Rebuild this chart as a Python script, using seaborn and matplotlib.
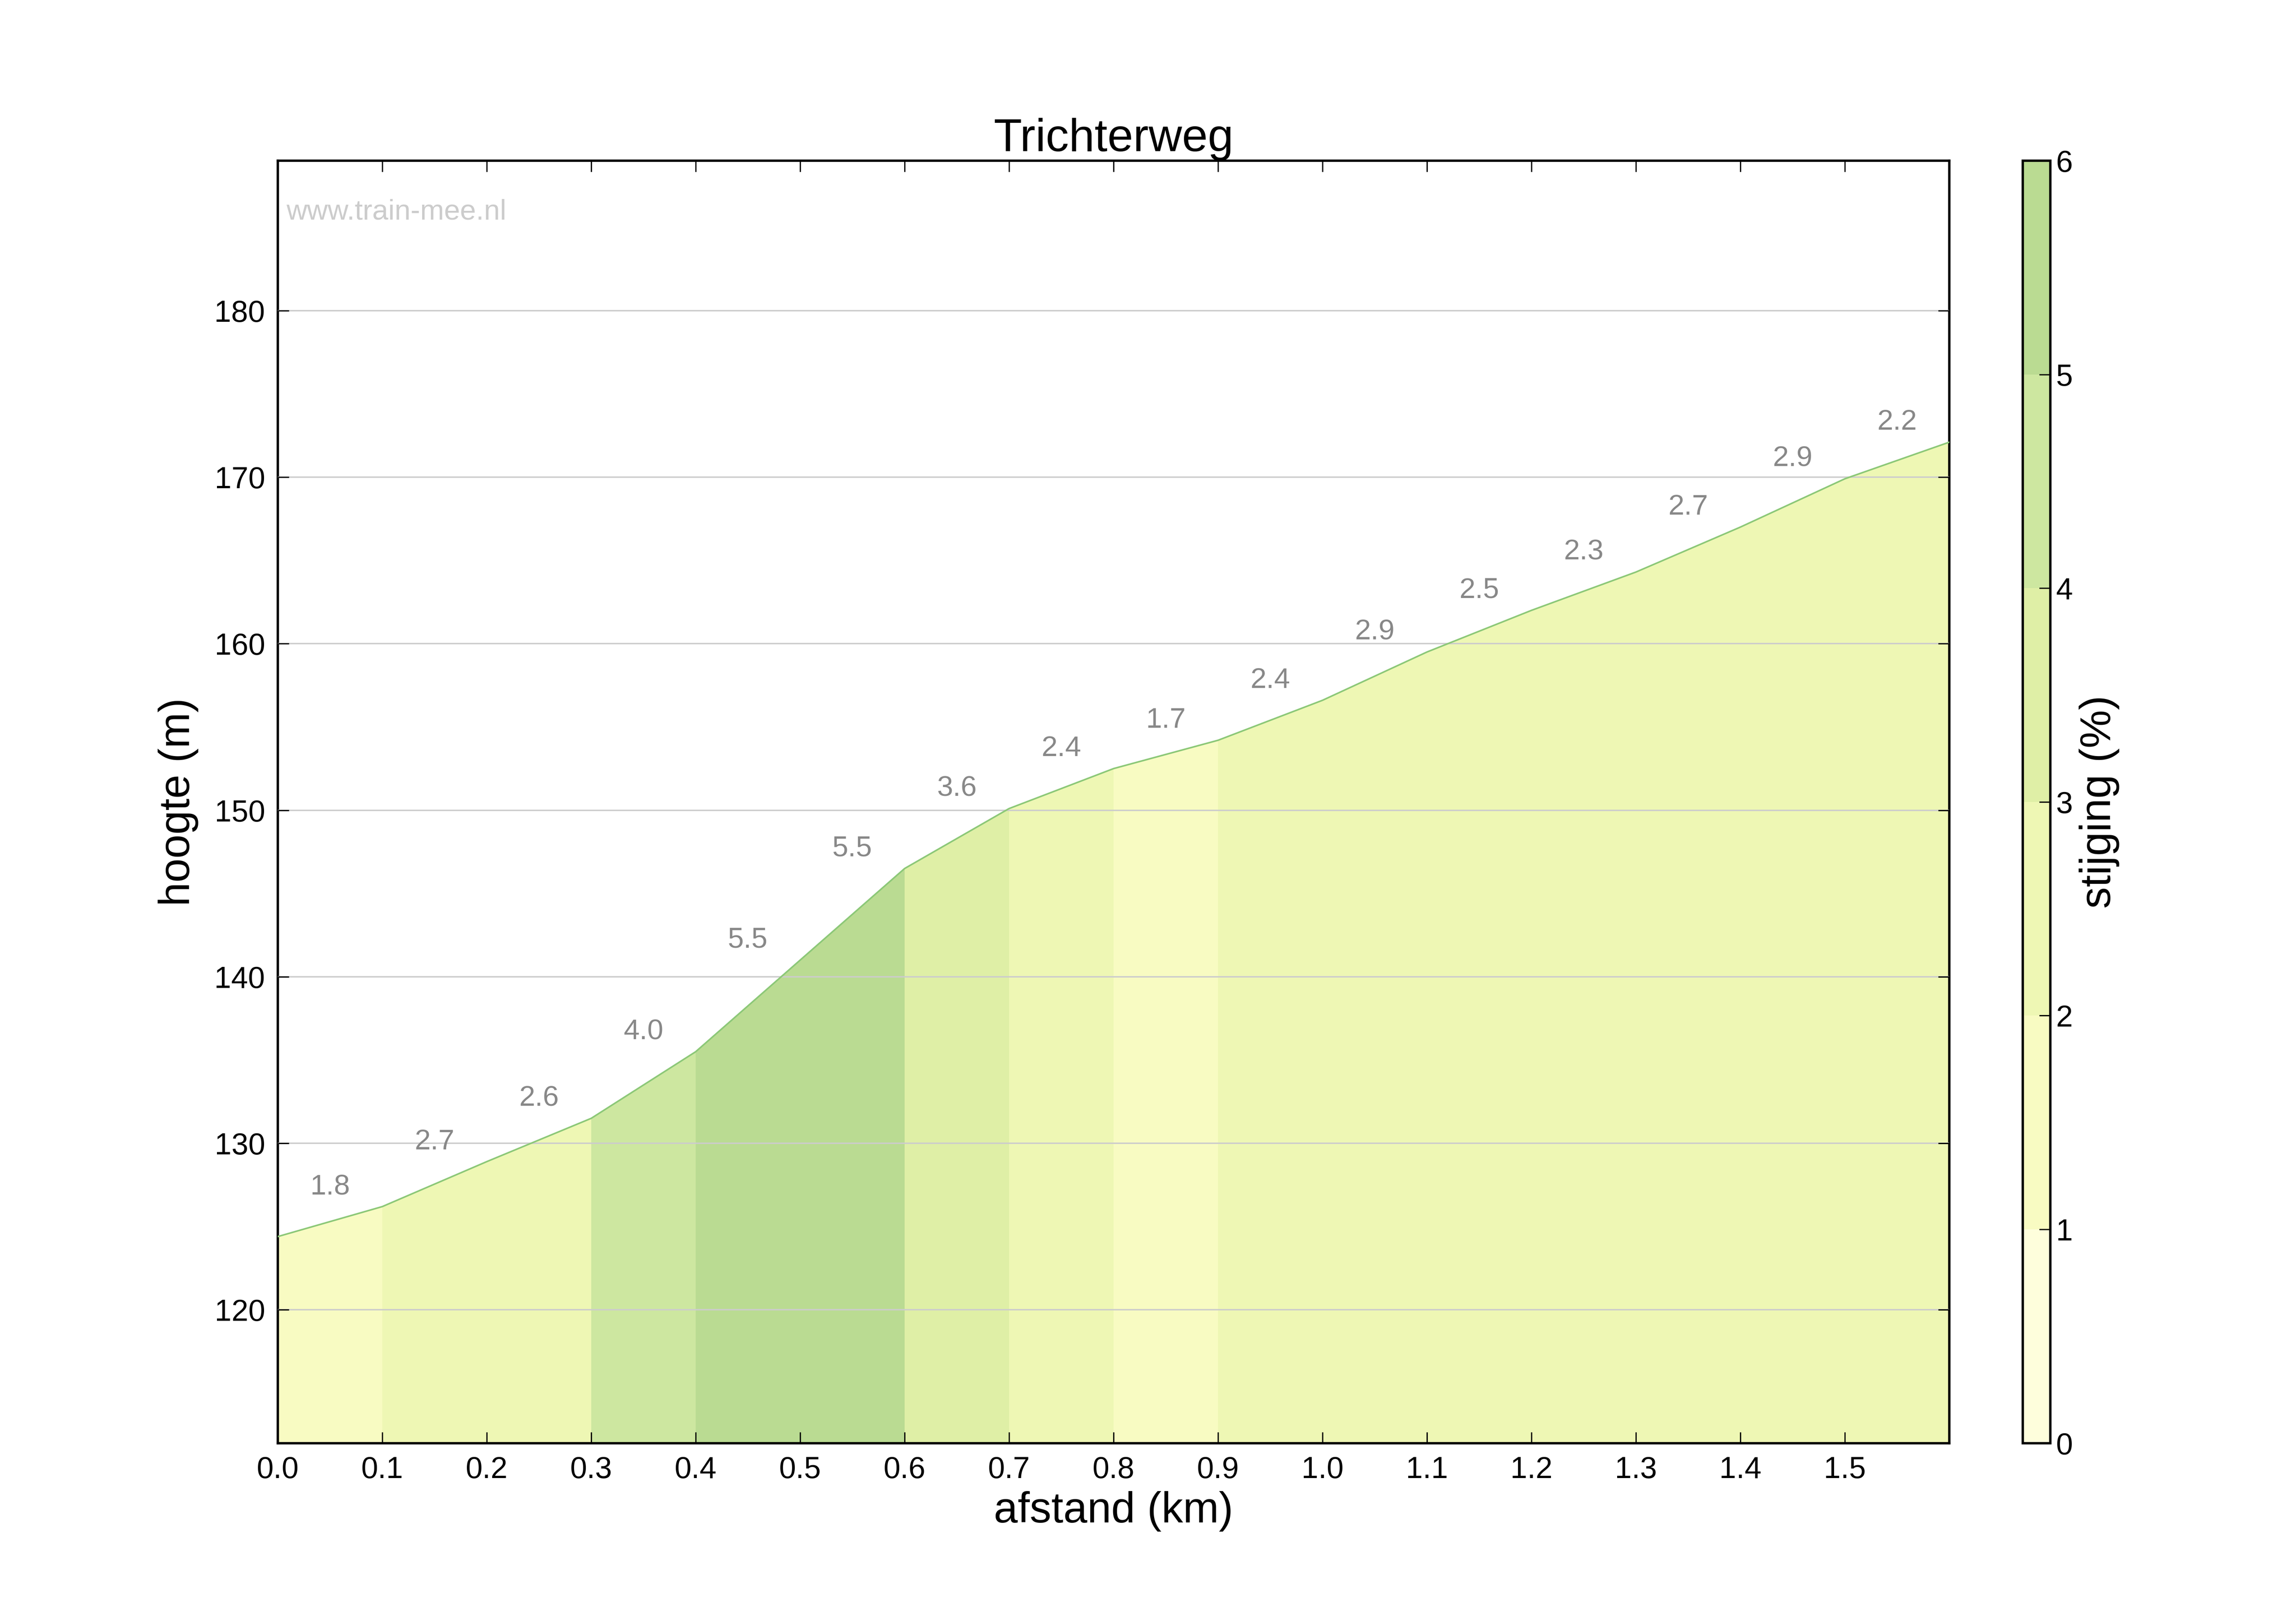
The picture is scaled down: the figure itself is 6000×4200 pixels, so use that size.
import matplotlib
matplotlib.use("Agg")
import matplotlib.pyplot as plt
import seaborn as sns
import numpy as np
import pandas as pd
from matplotlib.colors import ListedColormap, BoundaryNorm
from matplotlib.colorbar import ColorbarBase

distance_km = [0.0, 0.1, 0.2, 0.3, 0.4, 0.5, 0.6, 0.7, 0.8, 0.9, 1.0, 1.1, 1.2, 1.3, 1.4, 1.5, 1.6]
height_m = [124.4, 126.2, 128.9, 131.5, 135.5, 141.0, 146.5, 150.1, 152.5, 154.2, 156.6, 159.5, 162.0, 164.3, 167.0, 169.9, 172.1]
gradient_pct = [1.8, 2.7, 2.6, 4.0, 5.5, 5.5, 3.6, 2.4, 1.7, 2.4, 2.9, 2.5, 2.3, 2.7, 2.9, 2.2]
bin_colors = ['#fefedc', '#f8fbc2', '#eef7b4', '#dfefa6', '#cde7a0', '#badb92']
x_ticks = [0.0, 0.1, 0.2, 0.3, 0.4, 0.5, 0.6, 0.7, 0.8, 0.9, 1.0, 1.1, 1.2, 1.3, 1.4, 1.5]
y_ticks = [120, 130, 140, 150, 160, 170, 180]

plt.rcParams['font.family'] = 'Liberation Sans'
fig = plt.figure(figsize=(20, 14), dpi=300)
ax = fig.add_axes([0.121, 0.102, 0.728, 0.798])
cmap = ListedColormap(bin_colors)
norm = BoundaryNorm([0, 1, 2, 3, 4, 5, 6], 6)

for i, g in enumerate(gradient_pct):
    xs = distance_km[i:i + 2]
    ys = height_m[i:i + 2]
    ax.fill_between(xs, ys, 0, color=cmap(norm(g)), linewidth=0, zorder=1)
    ax.text((xs[0] + xs[1]) / 2, ys[1] + 0.4, f"{g:.1f}", ha='center', va='bottom',
            fontsize=18, color='#888888', zorder=4)

df = pd.DataFrame({'d': distance_km, 'h': height_m})
sns.lineplot(data=df, x='d', y='h', ax=ax, color='#8cc878', linewidth=1, zorder=3)

ax.set_xlim(0, 1.6)
ax.set_ylim(112, 189)
ax.set_xticks(x_ticks)
ax.set_xticklabels([f"{t:.1f}" for t in x_ticks])
ax.set_yticks(y_ticks)
ax.grid(axis='y', color='#cccccc', linewidth=0.9, zorder=2)
ax.set_axisbelow(False)
ax.tick_params(direction='in', top=True, right=True, labelsize=19, length=7, pad=8)
for s in ax.spines.values():
    s.set_linewidth(1.5)
ax.set_xlabel('afstand (km)', fontsize=27, labelpad=4)
ax.set_ylabel('hoogte (m)', fontsize=27, labelpad=10)
ax.set_title('Trichterweg', fontsize=29, pad=6)
ax.text(0.005, 0.96, 'www.train-mee.nl', transform=ax.transAxes, fontsize=18,
        color='#cccccc', va='center')

cax = fig.add_axes([0.881, 0.102, 0.012, 0.798])
cb = ColorbarBase(cax, cmap=cmap, norm=norm, ticks=[0, 1, 2, 3, 4, 5, 6])
cb.outline.set_linewidth(1.5)
cax.tick_params(labelsize=19, direction='in', length=7)
cb.set_label('stijging (%)', fontsize=27)
fig.savefig('out.png', dpi=300)
